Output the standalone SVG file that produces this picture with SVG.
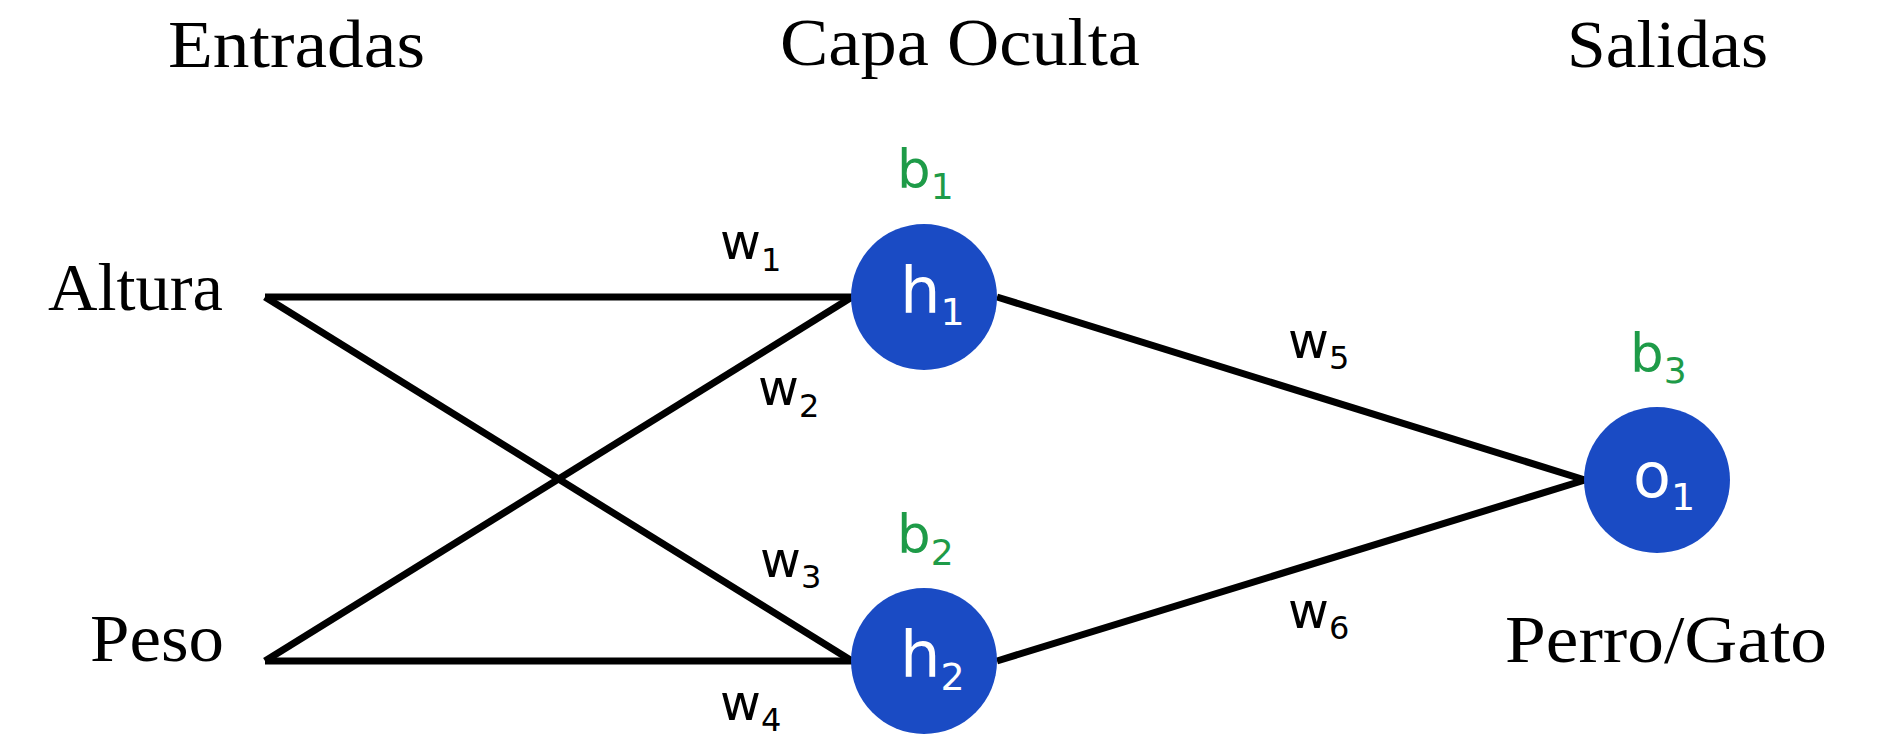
<svg xmlns="http://www.w3.org/2000/svg" width="1891" height="736" viewBox="0 0 1891 736">
<style>
.title{font-family:"Liberation Serif","Times New Roman",serif;font-size:68px;fill:#000}
.edge{stroke:#000;stroke-width:7;fill:none;stroke-linecap:butt}
.node{fill:#1A4BC4}
.nl{font-family:"DejaVu Sans",sans-serif;fill:#fff}
.bl{font-family:"DejaVu Sans",sans-serif;fill:#1E9B48;font-size:53px}
.wl{font-family:"DejaVu Sans",sans-serif;fill:#000;font-size:50px}
</style>
<rect width="1891" height="736" fill="#fff"/>
<g id="titles">
<text class="title" x="168" y="67" textLength="257" lengthAdjust="spacingAndGlyphs">Entradas</text>
<text class="title" x="780" y="65" textLength="360" lengthAdjust="spacingAndGlyphs">Capa Oculta</text>
<text class="title" x="1567" y="67" textLength="201" lengthAdjust="spacingAndGlyphs">Salidas</text>
</g>
<g id="connectors">
<line class="edge" x1="265" y1="297" x2="852" y2="297"/>
<line class="edge" x1="265" y1="297" x2="852" y2="661"/>
<line class="edge" x1="265" y1="661" x2="852" y2="297"/>
<line class="edge" x1="265" y1="661" x2="852" y2="661"/>
<line class="edge" x1="997" y1="297" x2="1585" y2="480"/>
<line class="edge" x1="997" y1="661" x2="1585" y2="480"/>
</g>
<g id="weights">
<text class="wl" x="720" y="259">w<tspan dy="12" font-size="32">1</tspan></text>
<text class="wl" x="758" y="405">w<tspan dy="12" font-size="32">2</tspan></text>
<text class="wl" x="760" y="577">w<tspan dy="11" font-size="32">3</tspan></text>
<text class="wl" x="720" y="720">w<tspan dy="11" font-size="32">4</tspan></text>
<text class="wl" x="1288" y="358">w<tspan dy="11" font-size="32">5</tspan></text>
<text class="wl" x="1288" y="628">w<tspan dy="11" font-size="32">6</tspan></text>
</g>
<g id="altura">
<text class="title" x="48" y="310" textLength="175" lengthAdjust="spacingAndGlyphs">Altura</text>
</g>
<g id="peso">
<text class="title" x="90" y="661" textLength="134" lengthAdjust="spacingAndGlyphs">Peso</text>
</g>
<g id="h1">
<circle class="node" cx="924" cy="297" r="73"/>
<text class="nl" x="900" y="313" font-size="64">h<tspan dy="12" font-size="38">1</tspan></text>
<text class="bl" x="897" y="188">b<tspan dy="11" font-size="36">1</tspan></text>
</g>
<g id="h2">
<circle class="node" cx="924" cy="661" r="73"/>
<text class="nl" x="900" y="677" font-size="64">h<tspan dy="13" font-size="38">2</tspan></text>
<text class="bl" x="897" y="553">b<tspan dy="12" font-size="36">2</tspan></text>
</g>
<g id="o1">
<circle class="node" cx="1657" cy="480" r="73"/>
<text class="nl" x="1633" y="497" font-size="62">o<tspan dy="13" font-size="38">1</tspan></text>
<text class="bl" x="1630" y="372">b<tspan dy="11" font-size="36">3</tspan></text>
<text class="title" x="1505" y="662" textLength="322" lengthAdjust="spacingAndGlyphs">Perro/Gato</text>
</g>
</svg>
